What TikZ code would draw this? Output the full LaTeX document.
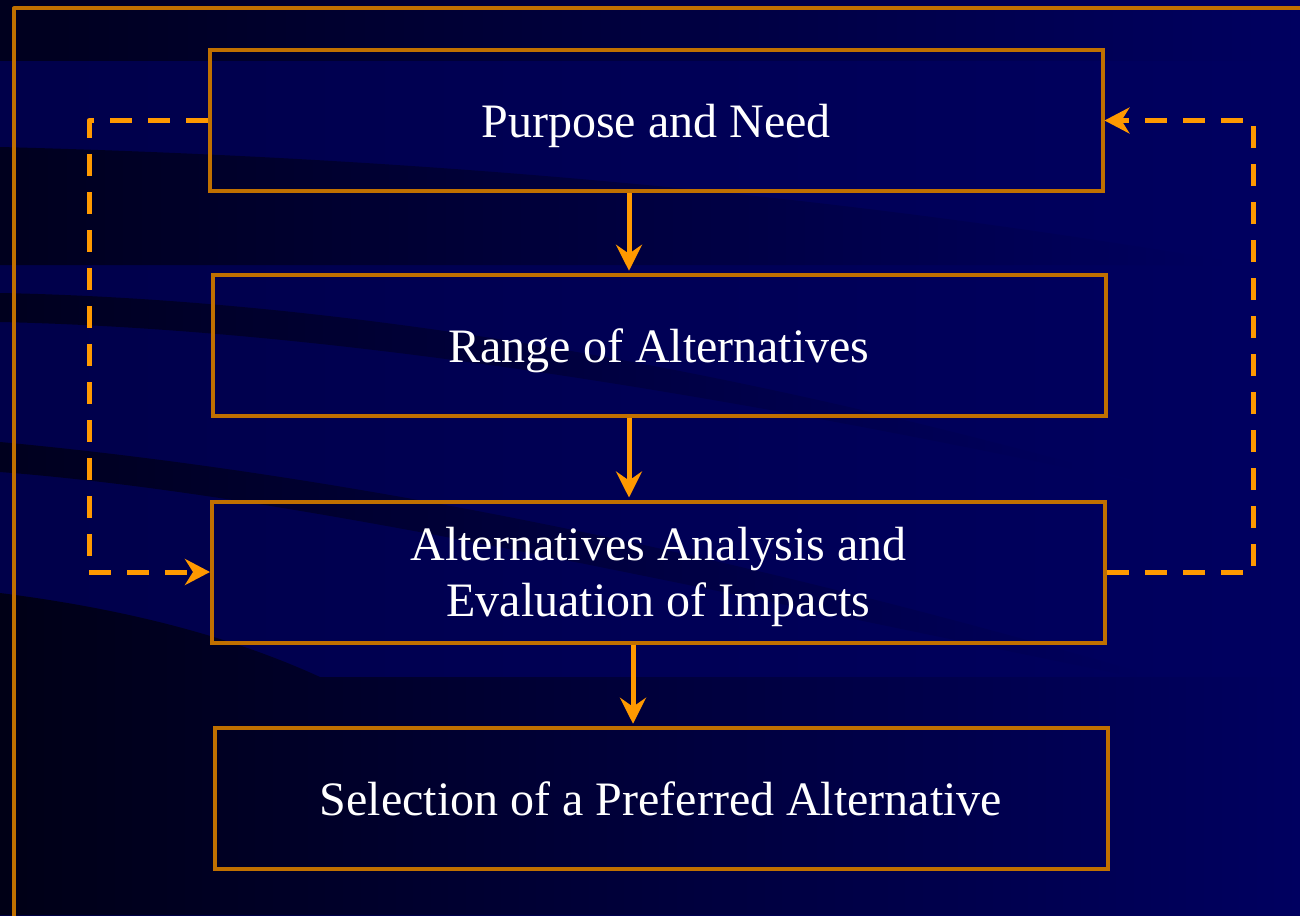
\documentclass[tikz,border=0pt]{standalone}
\usepackage{fontspec}
\setmainfont{Liberation Serif}
\usetikzlibrary{arrows.meta}
\definecolor{boxline}{HTML}{C07000}
\definecolor{flow}{HTML}{FF9900}
\definecolor{bgblue}{HTML}{000060}
\definecolor{bglight}{HTML}{00004A}
\definecolor{bgdark}{HTML}{00001E}
\definecolor{bgdeep}{HTML}{000016}
\begin{document}
\begin{tikzpicture}[x=0.5pt,y=-0.5pt,
  stepbox/.style={draw=boxline, line width=2pt, minimum width=446.5pt, minimum height=70.5pt,
    inner sep=0pt, text=white, font=\fontsize{24}{28}\selectfont, text height=17pt, text depth=0pt},
  flowarrow/.style={draw=flow, line width=2.5pt, shorten >=1pt,
    -{Stealth[length=13pt,width=13pt,inset=4.5pt,fill=flow]}},
  feedback/.style={draw=flow, line width=2.5pt, dash pattern=on 11pt off 8pt, line join=round,
    -{Stealth[length=12.5pt,width=13pt,inset=4pt,fill=flow]}},
  frameline/.style={draw=boxline, line width=2pt, line join=round}
]
\useasboundingbox (0,0) rectangle (1300,915);
% background
\shade[left color=bglight, right color=bgblue] (0,0) rectangle (1300,915);
\shade[left color=bgdark, right color=bgblue] (0,0) rectangle (1300,61);
\shade[left color=bgdark, right color=bgblue]
  (0,147) .. controls (500,160) and (900,205) .. (1250,265) -- (0,265) -- cycle;
\shade[left color=bgdark, right color=bgblue]
  (0,293) .. controls (350,300) and (750,370) .. (1150,485)
  .. controls (750,400) and (350,330) .. (0,322) -- cycle;
\shade[left color=bgdark, right color=bgblue]
  (0,442) .. controls (300,470) and (700,540) .. (1200,690)
  .. controls (700,590) and (300,495) .. (0,472) -- cycle;
\shade[left color=bgdeep, right color=bgblue]
  (0,593) .. controls (150,612) and (250,645) .. (320,677) -- (1300,677) -- (1300,915) -- (0,915) -- cycle;
% outer frame
\draw[frameline] (1310,8.5) -- (14,8.5) -- (14,925);
% boxes
\node[stepbox] (b1) at (656,120.5) {Purpose and Need};
\node[stepbox] (b2) at (659,345.25) {Range of Alternatives};
\node[stepbox, text height=0pt, text depth=12pt] (b3) at (658.5,572)
  {\begin{tabular}[t]{@{}c@{}}Alternatives Analysis and\\Evaluation of Impacts\end{tabular}};
\node[stepbox] (b4) at (661,798.25) {Selection of a Preferred Alternative};
% connectors
\coordinate (c1) at (629,0);
\coordinate (c3) at (633,0);
\coordinate (lx) at (89,0);
\coordinate (rx) at (1253,0);
\draw[flowarrow] (b1.south -| c1) -- (b2.north -| c1);
\draw[flowarrow] (b2.south -| c1) -- (b3.north -| c1);
\draw[flowarrow] (b3.south -| c3) -- (b4.north -| c3);
\draw[feedback] (b1.west) -- (b1.west -| lx) -- (b3.west -| lx) -- (b3.west);
\draw[feedback] (b3.east) -- (b3.east -| rx) -- (b1.east -| rx) -- (b1.east);
\end{tikzpicture}
\end{document}
